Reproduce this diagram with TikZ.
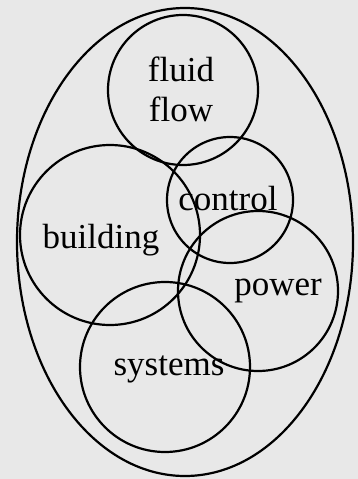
\documentclass[tikz,border=0pt]{standalone}
\usepackage{fontspec}
\setmainfont{Liberation Serif}
\usetikzlibrary{positioning}

\begin{document}
\begin{tikzpicture}[
    x=1pt, y=-1pt,
    area/.style={circle, draw, line width=2.2pt, inner sep=0pt},
    word/.style={font=\fontsize{35}{40}\selectfont, align=center, inner sep=0pt}
]

% Background
\fill[gray!18] (0,0) rectangle (358,479);
\useasboundingbox (0,0) rectangle (358,479);

% Outer field
\draw[line width=2.2pt] (185,242) ellipse [x radius=168pt, y radius=234pt];

% Subject circles
\node[area, minimum size=150pt] (fluid) at (183,90) {};
\node[area, minimum size=126pt] (control) at (230,200) {};
\node[area, minimum size=180pt] (building) at (110,235) {};
\node[area, minimum size=160pt] (power) at (258,291) {};
\node[area, minimum size=170pt] (systems) at (165,367) {};

% Labels
\node[word] (fluid_label) at (181,89) {fluid\\flow};
\node[word] (control_label) at (228,199) {control};
\node[word] (building_label) at (101,240) {building};
\node[word] (power_label) at (278,291) {power};
\node[word] (systems_label) at (169,369) {systems};

\end{tikzpicture}
\end{document}
